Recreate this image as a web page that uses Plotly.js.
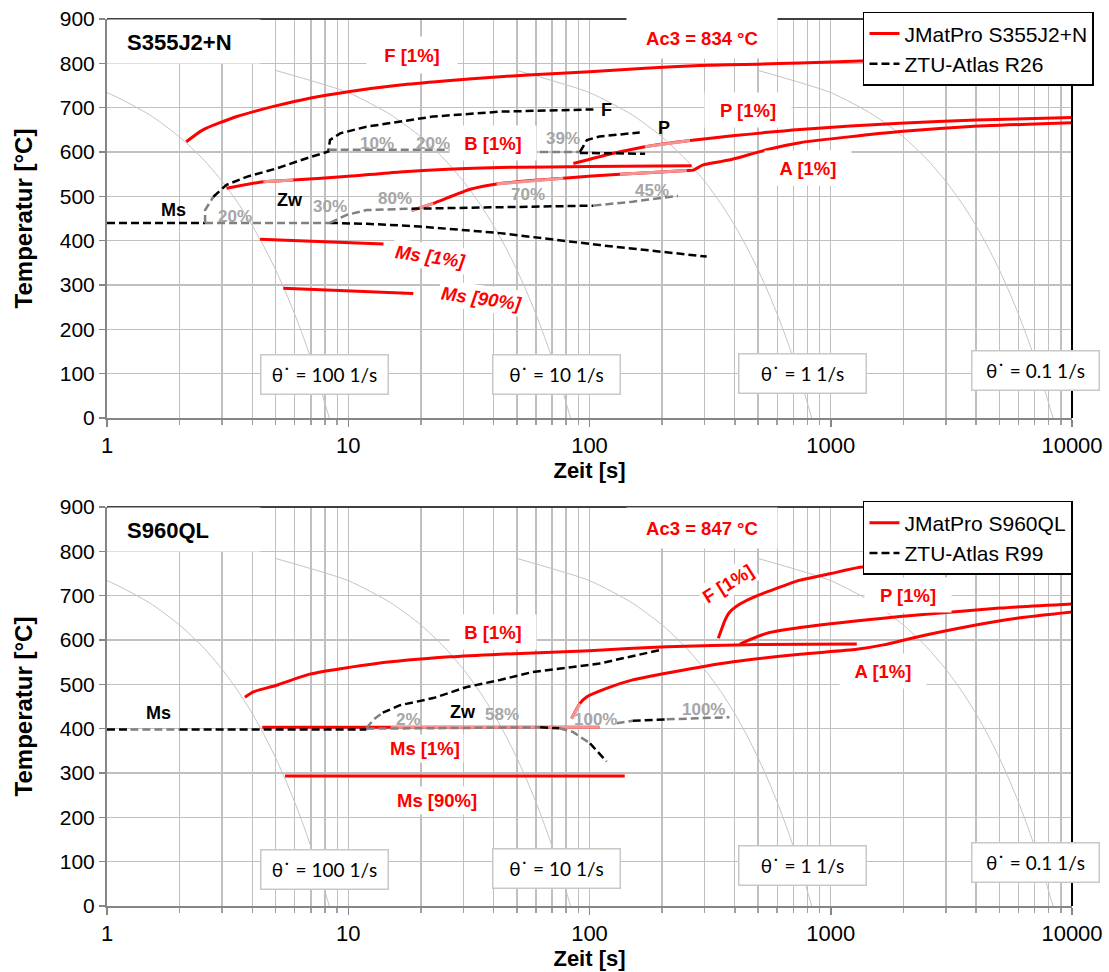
<!DOCTYPE html>
<html><head><meta charset="utf-8">
<script src="https://cdn.plot.ly/plotly-3.0.1.min.js"></script>
<style>html,body{margin:0;padding:0;background:#fff}</style>
</head><body><div id="chart" style="width:1109px;height:972px"></div>
<script>
// ---------- axis ticks ----------
const xTickVals = [1, 10, 100, 1000, 10000];
const xTickText = ['1', '10', '100', '1000', '10000'];
const xMinorVals = [2,3,4,5,6,7,8,9,20,30,40,50,60,70,80,90,200,300,400,500,600,700,800,900,2000,3000,4000,5000,6000,7000,8000,9000];
const yTickVals = [0,100,200,300,400,500,600,700,800,900];

// ---------- cooling-rate reference curves (shared by both diagrams) ----------
const arcTemp = [784,734,684,634,584,534,484,434,384,334,284,234,184,134,84,34,0];
const arc100 = [0.5,1.0,1.5,2.0,2.5,3.0,3.5,4.0,4.5,5.0,5.5,6.0,6.5,7.0,7.5,8.0,8.34];
const arc10  = [5,10,15,20,25,30,35,40,45,50,55,60,65,70,75,80,83.4];
const arc1   = [50,100,150,200,250,300,350,400,450,500,550,600,650,700,750,800,834];
const arc01  = [500,1000,1500,2000,2500,3000,3500,4000,4500,5000,5500,6000,6500,7000,7500,8000,8340];
const arcLabels = ['θ˙ = 100 1/s', 'θ˙ = 10 1/s', 'θ˙ = 1 1/s', 'θ˙ = 0.1 1/s'];

// ---------- S355J2+N : JMatPro ----------
const topF_t  = [2.13,2.5,3.45,5.0,7.0,10,16.4,25,42.6,58,100,170,287,500,746,1322,3000,10000];
const topF_T  = [623,650,680,704,722,736,751,760,770,774,781,789,795,798,801,805,808,810];
const topB_t  = [3.13,4.45,5.92,10,16.4,42.6,100,265];
const topB_T  = [518,533,537,545,555,565,567,569];
const topP_t  = [85.7,125.6,169.8,261,400,746,1936,4000,10000];
const topP_T  = [574,597,612,626,637,651,665,672,678];
const topA_t  = [18.3,22.5,32,41.2,77.9,133.7,253,269,296,347,394,542,746,1936,3661,10000];
const topA_T  = [468,484,516,528,541,550,558,559,571,578,584,605,621,646,657,666];
const topMs1_t = [4.31,14];   const topMs1_T = [403,392.5];
const topMs90_t = [5.38,18.6]; const topMs90_T = [292.6,281];
// ---------- S355J2+N : ZTU-Atlas R26 ----------
const topZMs_t = [1,2.55,8.4,12,19.8,42.6,110,306];
const topZMs_T = [440,440,440,438,432,417,390,364];
const topZB_t  = [2.55,2.55,2.76,3.13,3.79,5.05,6.73,8.27,8.4,9.25,11.9,16.4,22.5,42.6,103.8];
const topZB_T  = [440,469,499,526,544,563,586,601,627,642,657,669,680,691,696];
const topZ10_t = [8.3,26.4];  const topZ10_T = [605,605];
const topZP_t  = [62.4,91.3,97.6,110,161.5];
const topZP_T  = [600,600,627,635,644];
const topZP2_t = [91.3,170];  const topZP2_T = [598,596];
const topZL_t  = [8.4,9.85,11.9,14.4,18.3,42.6,103.8,151,233];
const topZL_T  = [440,458,469,471,472,476,479,488,501];

// ---------- S960QL : JMatPro ----------
const botB_t = [3.73,4.04,5.05,6.93,13.1,26.4,42.6,100,209,500,1282];
const botB_T = [471,483,498,523,547,562,568,576,585,590,591];
const botF_t = [342,364.7,380,420,480,560,650,746,1000,1322,3000,10000];
const botF_T = [604,645,662,681,697,711,724,735,750,764,785,800];
const botP_t = [420,542,746,1936,5025,10000];
const botP_T = [591,615,628,653,672,681];
const botA_t = [84.3,91.3,97.6,117.6,151,243,394,746,1282,1652,2278,3661,5910,10000];
const botA_T = [423,457,472,491,510,532,551,568,579,589,607,630,649,663];
const botMs1_t = [4.4,15,110];  const botMs1_T = [403,403,403];
const botMs90_t = [5.47,140];   const botMs90_T = [293,293];
// ---------- S960QL : ZTU-Atlas R99 ----------
const botZMs_t = [1,1.25,2.0,11.9];  const botZMs_T = [398,398,398,398];
const botZZw_t = [11.9,62.4,75,85,100.5,117.6];
const botZZw_T = [400,403,401,393,367,326];
const botZB_t  = [11.9,12.7,13.9,16.4,22.5,31,42.6,58.3,110,198];
const botZB_T  = [401,420,436,453,469,494,510,528,547,578];
const botZR_t  = [129.5,151,209,380];
const botZR_T  = [412,418,421,426];

const seriesNames = ['JMatPro S355J2+N','ZTU-Atlas R26','JMatPro S960QL','ZTU-Atlas R99'];

// ---------- styles ----------
const RED='#ff0000', PINK='#f29494', BLACK='#000000', GRAY='#808080', ARC='#c4c4c4';
const DASH='8px,4px';
const FONT='Liberation Sans, Arial, sans-serif';
const traces = [];

function tr(xa, ya, x, y, color, width, dash, extra, smooth){
  const ln = {color:color, width:width, dash:dash||'solid'};
  if (smooth) { ln.shape = 'spline'; ln.smoothing = 0.6; }
  return Object.assign({type:'scatter', mode:'lines', x:x, y:y, xaxis:xa, yaxis:ya,
    line:ln, hoverinfo:'skip', showlegend:false}, extra||{});
}
function arcs(xa, ya){
  [arc100, arc10, arc1, arc01].forEach(a => traces.push(tr(xa, ya, a, arcTemp, ARC, 1, 'solid', null, true)));
}
function red(xa, ya, t, T, pink, extra){
  traces.push(tr(xa, ya, t, T, RED, 3, 'solid', extra, true));
  (pink||[]).forEach(p => traces.push(tr(xa, ya, t.slice(p[0], p[1]+1), T.slice(p[0], p[1]+1), PINK, 3)));
}
function dashed(xa, ya, t, T, segs, extra){
  segs.forEach((s, k) => traces.push(tr(xa, ya, t.slice(s[0], s[1]+1), T.slice(s[0], s[1]+1),
     s[2]==='g' ? GRAY : BLACK, 2.5, DASH, k===0 && extra ? extra : null)));
}

// top
arcs('x','y');
red('x','y', topF_t, topF_T, [], {showlegend:true, name:seriesNames[0], legend:'legend'});
red('x','y', topB_t, topB_T, [[1,2]]);
red('x','y', topP_t, topP_T, [[2,3]]);
red('x','y', topA_t, topA_T, [[0,1],[3,4],[5,6]]);
red('x','y', topMs1_t, topMs1_T);
red('x','y', topMs90_t, topMs90_T);
dashed('x','y', topZMs_t, topZMs_T, [[0,1,'k'],[1,2,'g'],[2,7,'k']], {showlegend:true, name:seriesNames[1], legend:'legend'});
dashed('x','y', topZB_t, topZB_T, [[0,2,'g'],[2,14,'k']]);
dashed('x','y', topZ10_t, topZ10_T, [[0,1,'g']]);
dashed('x','y', topZP_t, topZP_T, [[0,1,'g'],[1,4,'k']]);
dashed('x','y', topZP2_t, topZP2_T, [[0,1,'k']]);
dashed('x','y', topZL_t, topZL_T, [[0,4,'g'],[4,6,'k'],[6,8,'g']]);
// bottom
arcs('x2','y2');
red('x2','y2', botB_t, botB_T, [], {showlegend:true, name:seriesNames[2], legend:'legend2'});
red('x2','y2', botF_t, botF_T);
red('x2','y2', botP_t, botP_T);
red('x2','y2', botA_t, botA_T, [[0,1]]);
red('x2','y2', botMs1_t, botMs1_T, [[1,2]]);
red('x2','y2', botMs90_t, botMs90_T);
dashed('x2','y2', botZMs_t, botZMs_T, [[0,1,'k'],[1,2,'g'],[2,3,'k']], {showlegend:true, name:seriesNames[3], legend:'legend2'});
dashed('x2','y2', botZZw_t, botZZw_T, [[0,1,'g'],[1,2,'k'],[2,4,'g'],[4,5,'k']]);
dashed('x2','y2', botZB_t, botZB_T, [[0,2,'g'],[2,9,'k']]);
dashed('x2','y2', botZR_t, botZR_T, [[0,1,'g'],[1,2,'k'],[2,3,'g']]);

// ---------- annotations ----------
const ann = [];
const L = Math.log10;
function txt(xa, ya, t, T, text, color, size, extra){
  ann.push(Object.assign({xref:xa, yref:ya, x:L(t), y:T, text:text, showarrow:false,
     font:{family:FONT, size:size, color:color}}, extra||{}));
}
function redLab(xa, ya, t, T, text, extra){
  txt(xa, ya, t, T, '<b>'+text+'</b>', RED, 18.5, Object.assign({bgcolor:'white', borderpad:5}, extra||{}));
}
function grayLab(xa, ya, t, T, text){ txt(xa, ya, t, T, '<b>'+text+'</b>', '#a6a6a6', 17); }
function blackLab(xa, ya, t, T, text){ txt(xa, ya, t, T, '<b>'+text+'</b>', BLACK, 18); }
function boxLab(xa, ya, t, T, text){
  txt(xa, ya, t, T, text, '#000', 19, {bgcolor:'white', bordercolor:'#c8c8c8', borderwidth:1.5,
     borderpad:0, width:126, height:38, font:{family:'Lato, Open Sans, sans-serif', size:19, color:'#000'}});
}
function titleBox(xa, ya, text){
  ann.push({xref:xa+' domain', yref:ya+' domain', x:0, y:1, xanchor:'left', yanchor:'top', showarrow:false,
    text:' ', width:152, height:43, bgcolor:'white', borderpad:0, font:{family:FONT, size:10, color:'#fff'}});
  ann.push({xref:xa+' domain', yref:ya+' domain', x:0.0187, y:0.942, xanchor:'left', yanchor:'middle', showarrow:false,
    text:'<b>'+text+'</b>', font:{family:FONT, size:22, color:'#000'}});
}

// diagram titles
titleBox('x','y','S355J2+N');
titleBox('x2','y2','S960QL');

// top labels
redLab('x','y', 10**2.465, 857, 'Ac3 = 834 °C', {width:140, height:30});
redLab('x','y', 10**1.263, 819, 'F [1%]', {width:80, height:26});
redLab('x','y', 10**1.600, 621, 'B [1%]', {width:76, height:24});
redLab('x','y', 10**2.657, 695, 'P [1%]', {width:76, height:24});
redLab('x','y', 10**2.906, 564, 'A [1%]', {width:76, height:24});
redLab('x','y', 10**1.339, 364, '<i>Ms [1%]</i>', {textangle:8, borderpad:2});
redLab('x','y', 10**1.553, 270, '<i>Ms [90%]</i>', {textangle:8, borderpad:2});
blackLab('x','y', 10**0.274, 469, 'Ms');
blackLab('x','y', 10**0.7585, 492, 'Zw');
blackLab('x','y', 10**2.071, 695, 'F');
blackLab('x','y', 10**2.309, 654, 'P');
grayLab('x','y', 10**1.118, 620, '10%');
grayLab('x','y', 10**1.351, 620, '20%');
grayLab('x','y', 10**0.5306, 454, '20%');
grayLab('x','y', 10**0.924, 477, '30%');
grayLab('x','y', 10**1.194, 496, '80%');
grayLab('x','y', 10**1.745, 503, '70%');
grayLab('x','y', 10**2.258, 514, '45%');
grayLab('x','y', 10**1.891, 631, '39%');
boxLab('x','y', 10**0.8995, 97, arcLabels[0]);
boxLab('x','y', 10**1.865, 97, arcLabels[1]);
boxLab('x','y', 10**2.881, 101, arcLabels[2]);
boxLab('x','y', 10**3.847, 108, arcLabels[3]);
// bottom labels
redLab('x2','y2', 10**2.465, 852, 'Ac3 = 847 °C', {width:140, height:30});
redLab('x2','y2', 10**1.601, 619, 'B [1%]', {width:76, height:24});
redLab('x2','y2', 10**2.575, 728, 'F [1%]', {textangle:-32, borderpad:2});
redLab('x2','y2', 10**3.322, 702, 'P [1%]', {width:76, height:24});
redLab('x2','y2', 10**3.218, 529, 'A [1%]', {width:76, height:24});
redLab('x2','y2', 10**1.318, 356, 'Ms [1%]', {borderpad:3});
redLab('x2','y2', 10**1.368, 239, 'Ms [90%]', {borderpad:3});
blackLab('x2','y2', 10**0.2125, 436, 'Ms');
blackLab('x2','y2', 10**1.476, 438, 'Zw');
grayLab('x2','y2', 10**1.248, 420, '2%');
grayLab('x2','y2', 10**1.636, 431, '58%');
grayLab('x2','y2', 10**2.023, 421, '100%');
grayLab('x2','y2', 10**2.472, 444, '100%');
boxLab('x2','y2', 10**0.8995, 83, arcLabels[0]);
boxLab('x2','y2', 10**1.865, 85, arcLabels[1]);
boxLab('x2','y2', 10**2.881, 92, arcLabels[2]);
boxLab('x2','y2', 10**3.847, 99, arcLabels[3]);

const shapes = [
  {type:'line', xref:'paper', yref:'paper', x0:0, x1:1, y0:1, y1:1, line:{color:'#404040', width:2}},
  {type:'line', xref:'paper', yref:'paper', x0:1, x1:1, y0:0.5502, y1:1, line:{color:'#000', width:2}},
  {type:'line', xref:'paper', yref:'paper', x0:0, x1:1, y0:0.4498, y1:0.4498, line:{color:'#404040', width:2}},
  {type:'line', xref:'paper', yref:'paper', x0:1, x1:1, y0:0, y1:0.4498, line:{color:'#000', width:2}}
];

function xax(anchor){
  return {type:'log', range:[0,4], anchor:anchor, tickmode:'array', tickvals:xTickVals, ticktext:xTickText,
    ticks:'outside', ticklen:7, tickcolor:'#868686', tickwidth:1.5,
    showgrid:true, gridcolor:'#c0c0c0', gridwidth:1.3,
    minor:{tickmode:'array', tickvals:xMinorVals, showgrid:true, gridcolor:'#c0c0c0', gridwidth:1.3, ticks:'outside', ticklen:5, tickcolor:'#a0a0a0'},
    showline:true, linecolor:'#868686', linewidth:2, zeroline:false,
    tickfont:{family:FONT, size:22, color:'#000'},
    title:{text:'<b>Zeit [s]</b>', font:{family:FONT, size:22, color:'#000'}, standoff:4}};
}
function yax(anchor, dom){
  return {range:[0,900], domain:dom, anchor:anchor, tickmode:'array', tickvals:yTickVals,
    ticks:'outside', ticklen:6, tickcolor:'#868686', tickwidth:1.5,
    showgrid:true, gridcolor:'#c0c0c0', gridwidth:1.3, showline:true, linecolor:'#868686', linewidth:2, zeroline:false,
    tickfont:{family:FONT, size:21, color:'#000'},
    title:{text:'<b>Temperatur [°C]</b>', font:{family:FONT, size:24, color:'#000'}, standoff:20}};
}
const legStyle = {xref:'paper', yref:'paper', xanchor:'left', yanchor:'top', bgcolor:'white', bordercolor:'#000', borderwidth:1.5,
  font:{family:FONT, size:21, color:'#000'}, tracegroupgap:0};

const layout = {
  width:1109, height:972, margin:{l:107, r:37, t:19, b:66, autoexpand:false},
  paper_bgcolor:'white', plot_bgcolor:'white', showlegend:true,
  xaxis:xax('y'), yaxis:yax('x',[0.5502,1]),
  xaxis2:xax('y2'), yaxis2:yax('x2',[0,0.4498]),
  legend:Object.assign({x:0.7834, y:1.008}, legStyle),
  legend2:Object.assign({x:0.7834, y:0.4566}, legStyle),
  annotations:ann, shapes:shapes
};
Plotly.newPlot('chart', traces, layout, {staticPlot:true, displayModeBar:false});
</script></body></html>
